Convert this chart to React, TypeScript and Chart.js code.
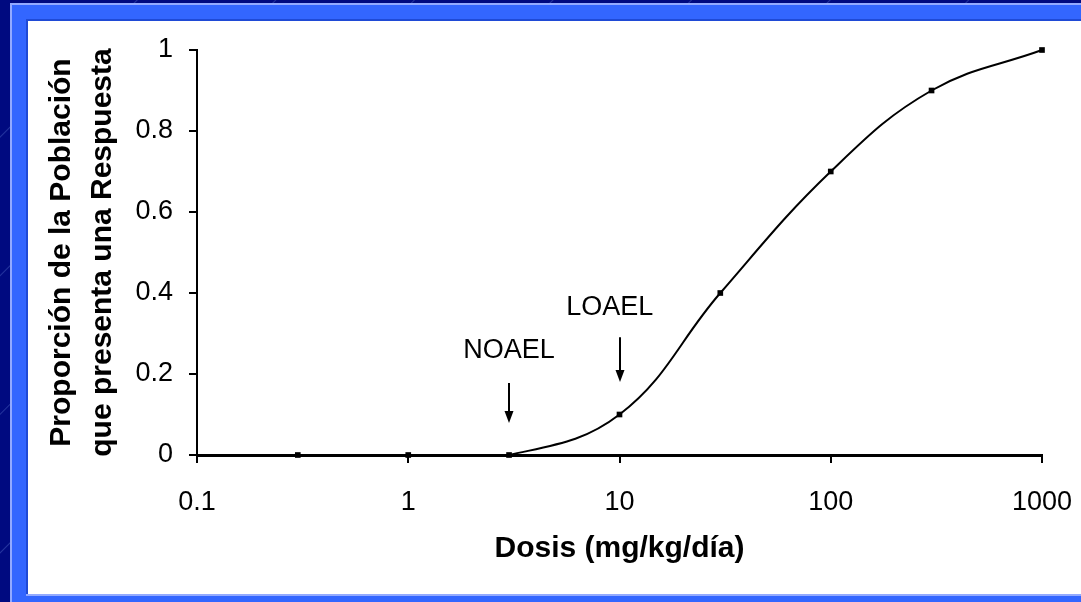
import React, { useEffect, useRef } from "react";
import { Chart, registerables } from "chart.js";

Chart.register(...registerables);

// ---- data ----
const curveDose = [1.4, 3, 10, 30, 100, 300, 1000];
const curveResponse = [0, 0, 0.1, 0.4, 0.7, 0.9, 1.0];

const markerDose = [0.3, 1, 3, 10, 30, 100, 300, 1000];
const markerResponse = [0, 0, 0, 0.1, 0.4, 0.7, 0.9, 1.0];

const xTickValues = [0.1, 1, 10, 100, 1000];
const xTickLabels = ["0.1", "1", "10", "100", "1000"];
const yTickValues = [0, 0.2, 0.4, 0.6, 0.8, 1];
const yTickLabels = ["0", "0.2", "0.4", "0.6", "0.8", "1"];

const xTitle = "Dosis (mg/kg/día)";
const yTitle = ["Proporción de la Población", "que presenta una Respuesta"];

// annotations (in data units)
const annotationText = ["NOAEL", "LOAEL"];
const annotationTextDose = [3, 9];
const annotationTextResponse = [0.257, 0.365];
const arrowDose = [3, 10];
const arrowTopResponse = [0.178, 0.291];
const arrowTipResponse = [0.079, 0.18];

const FONT = "'Liberation Sans', Arial, Helvetica, sans-serif";

const annotationPlugin = {
  id: "doseAnnotations",
  afterDatasetsDraw(chart: any) {
    const { ctx, scales } = chart;
    const xs = scales.x;
    const ys = scales.y;
    ctx.save();
    ctx.fillStyle = "#000";
    ctx.strokeStyle = "#000";
    ctx.font = `27px ${FONT}`;
    ctx.textAlign = "center";
    ctx.textBaseline = "middle";
    for (let i = 0; i < annotationText.length; i++) {
      const tx = xs.getPixelForValue(annotationTextDose[i]);
      const ty = ys.getPixelForValue(annotationTextResponse[i]);
      ctx.fillText(annotationText[i], tx, ty);

      const ax = Math.round(xs.getPixelForValue(arrowDose[i]));
      const top = ys.getPixelForValue(arrowTopResponse[i]);
      const tip = ys.getPixelForValue(arrowTipResponse[i]);
      const headH = 12;
      const headW = 9;
      ctx.lineWidth = 2;
      ctx.beginPath();
      ctx.moveTo(ax, top);
      ctx.lineTo(ax, tip - headH + 1);
      ctx.stroke();
      ctx.beginPath();
      ctx.moveTo(ax - headW / 2, tip - headH);
      ctx.lineTo(ax + headW / 2, tip - headH);
      ctx.lineTo(ax, tip);
      ctx.closePath();
      ctx.fill();
    }
    ctx.restore();
  },
};

function DoseResponseChart() {
  const canvasRef = useRef<HTMLCanvasElement | null>(null);

  useEffect(() => {
    if (!canvasRef.current) return;
    const chart = new Chart(canvasRef.current, {
      type: "scatter",
      data: {
        datasets: [
          {
            label: "curve",
            data: curveDose.map((d, i) => ({ x: d, y: curveResponse[i] })),
            showLine: true,
            borderColor: "#000",
            borderWidth: 2,
            pointRadius: 0,
            pointHoverRadius: 0,
            tension: 0.4,
            clip: false,
            order: 2,
          },
          {
            label: "points",
            data: markerDose.map((d, i) => ({ x: d, y: markerResponse[i] })),
            showLine: false,
            pointStyle: "rect",
            pointRadius: 4,
            backgroundColor: "#000",
            borderColor: "#000",
            borderWidth: 0,
            clip: false,
            order: 1,
          },
        ],
      },
      options: {
        animation: false,
        responsive: false,
        devicePixelRatio: 1,
        events: [],
        layout: { padding: { top: 29, right: 0, left: 0, bottom: 0 } },
        plugins: {
          legend: { display: false },
          tooltip: { enabled: false },
          title: { display: false },
        },
        scales: {
          x: {
            type: "logarithmic",
            min: 0.1,
            max: 1000,
            afterBuildTicks: (s: any) => {
              s.ticks = xTickValues.map((v) => ({ value: v }));
            },
            afterFit: (s: any) => {
              s.height = 139;
              s.paddingRight = 39;
              s.paddingLeft = 0;
            },
            border: { display: true, color: "#000", width: 3 },
            grid: {
              drawOnChartArea: false,
              drawTicks: true,
              tickLength: 8,
              color: "#000",
              lineWidth: 2,
            },
            ticks: {
              autoSkip: false,
              maxRotation: 0,
              minRotation: 0,
              padding: 23,
              color: "#000",
              font: { family: FONT, size: 27 },
              callback: (v: any) => {
                const idx = xTickValues.findIndex((t) => Math.abs(t - Number(v)) < 1e-9);
                return idx >= 0 ? xTickLabels[idx] : "";
              },
            },
            title: {
              display: true,
              text: xTitle,
              color: "#000",
              font: { family: FONT, size: 30, weight: "bold", lineHeight: 1.2 },
              padding: { top: 0, bottom: 27 },
            },
          },
          y: {
            type: "linear",
            min: 0,
            max: 1,
            afterBuildTicks: (s: any) => {
              s.ticks = yTickValues.map((v) => ({ value: v }));
            },
            afterFit: (s: any) => {
              s.width = 169;
              s.paddingTop = 0;
              s.paddingBottom = 0;
            },
            border: { display: true, color: "#000", width: 2 },
            grid: {
              drawOnChartArea: false,
              drawTicks: true,
              tickLength: 8,
              color: "#000",
              lineWidth: 2,
            },
            ticks: {
              autoSkip: false,
              padding: 16,
              color: "#000",
              font: { family: FONT, size: 27 },
              callback: (v: any) => {
                const idx = yTickValues.findIndex((t) => Math.abs(t - Number(v)) < 1e-9);
                return idx >= 0 ? yTickLabels[idx] : "";
              },
            },
            title: {
              display: true,
              text: yTitle,
              color: "#000",
              font: { family: FONT, size: 30, weight: "bold", lineHeight: 1.37 },
              padding: { top: 13, bottom: 0 },
            },
          },
        },
      } as any,
      plugins: [annotationPlugin],
    });
    return () => chart.destroy();
  }, []);

  return <canvas ref={canvasRef} width={1053} height={573} style={{ display: "block" }} />;
}

export default function App() {
  return (
    <div
      style={{
        position: "fixed",
        left: 0,
        top: 0,
        width: 1081,
        height: 602,
        overflow: "hidden",
        background:
          "repeating-linear-gradient(135deg, #000a80 0px, #000a80 96px, #24349e 97px, #000a80 98px)",
      }}
    >
      <div
        style={{
          position: "absolute",
          left: 10,
          top: 3,
          right: 0,
          bottom: 0,
          background: "#3366ff",
          borderLeft: "2px solid #93aaff",
          borderTop: "2px solid #93aaff",
        }}
      />
      <div
        style={{
          position: "absolute",
          left: 26,
          top: 19,
          width: 1060,
          height: 577,
          background: "#1f4ad6",
        }}
      />
      <div
        style={{
          position: "absolute",
          left: 26,
          top: 594,
          width: 1060,
          height: 2,
          background: "#93aaff",
        }}
      />
      <div
        style={{
          position: "absolute",
          left: 28,
          top: 21,
          width: 1053,
          height: 573,
          background: "#ffffff",
        }}
      >
        <DoseResponseChart />
      </div>
    </div>
  );
}
